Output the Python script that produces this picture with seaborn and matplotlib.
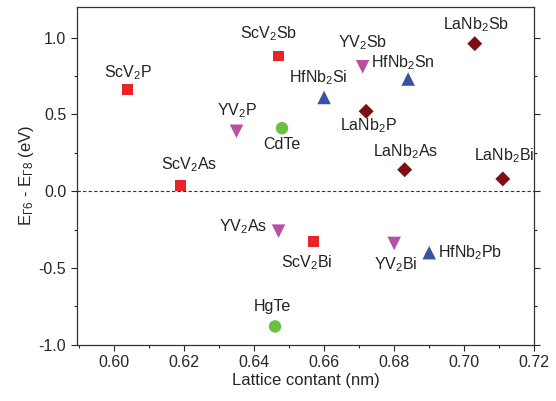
import numpy as np
import matplotlib
matplotlib.use("Agg")
import matplotlib.pyplot as plt
import seaborn as sns
import pandas as pd
from matplotlib.ticker import MultipleLocator

# Data
names = ["ScV$_2$P", "ScV$_2$Sb", "ScV$_2$As", "ScV$_2$Bi",
         "YV$_2$P", "YV$_2$Sb", "YV$_2$As", "YV$_2$Bi",
         "HfNb$_2$Si", "HfNb$_2$Sn", "HfNb$_2$Pb",
         "LaNb$_2$Sb", "LaNb$_2$P", "LaNb$_2$As", "LaNb$_2$Bi",
         "CdTe", "HgTe"]
lattice = [0.604, 0.647, 0.619, 0.657,
           0.635, 0.671, 0.647, 0.680,
           0.660, 0.684, 0.690,
           0.703, 0.672, 0.683, 0.711,
           0.648, 0.646]
gap = [0.66, 0.88, 0.04, -0.33,
       0.39, 0.81, -0.26, -0.34,
       0.61, 0.73, -0.40,
       0.96, 0.52, 0.14, 0.08,
       0.41, -0.88]
family = ["ScV2X"] * 4 + ["YV2X"] * 4 + ["HfNb2X"] * 3 + ["LaNb2X"] * 4 + ["II-VI", "II-VI"]

# label offsets (points) and alignment
offsets = [(0, 12, "center"), (-7, 16, "center"), (6, 15, "center"), (-5, -15, "center"),
           (0, 15, "center"), (0, 17, "center"), (-8, 3, "right"), (1, -15, "center"),
           (-4, 14, "center"), (-4, 12, "center"), (6, 0, "left"),
           (1, 14, "center"), (2, -10, "center"), (1, 13, "center"), (1, 17, "center"),
           (0, -12, "center"), (-2, 14, "center")]

df = pd.DataFrame({"name": names, "a": lattice, "E": gap, "family": family})

palette = {"ScV2X": "#e8242a", "YV2X": "#b74fa3", "HfNb2X": "#3853a3",
           "LaNb2X": "#7c1015", "II-VI": "#6abf45"}
markers = {"ScV2X": "s", "YV2X": "v", "HfNb2X": "^", "LaNb2X": "D", "II-VI": "o"}
sizes = {"ScV2X": 62, "YV2X": 95, "HfNb2X": 95, "LaNb2X": 58, "II-VI": 80}

sns.set_style("ticks")
plt.rcParams["font.family"] = ["Liberation Sans", "DejaVu Sans"]
plt.rcParams["mathtext.default"] = "regular"

fig, ax = plt.subplots(figsize=(5.56, 4.01), dpi=100)
for fam, sub in df.groupby("family", sort=False):
    sns.scatterplot(data=sub, x="a", y="E", color=palette[fam], marker=markers[fam],
                    s=sizes[fam], edgecolor="none", ax=ax, legend=False)

for n, x, y, (dx, dy, ha) in zip(names, lattice, gap, offsets):
    ax.annotate(n, (x, y), textcoords="offset points", xytext=(dx, dy),
                ha=ha, va="center", fontsize=11.5, color="#222222")

ax.axhline(0, color="#333333", linestyle="--", linewidth=0.8, dashes=(3, 2))
ax.set_xlim(0.5894, 0.72)
ax.set_ylim(-1.0, 1.2)
ax.xaxis.set_minor_locator(MultipleLocator(0.01))
ax.yaxis.set_major_locator(MultipleLocator(0.5))
ax.yaxis.set_minor_locator(MultipleLocator(0.25))
ax.set_xticks(np.arange(0.60, 0.7201, 0.02))
ax.xaxis.set_major_formatter(matplotlib.ticker.FormatStrFormatter("%.2f"))
ax.yaxis.set_major_formatter(matplotlib.ticker.FormatStrFormatter("%.1f"))
ax.tick_params(which="major", length=4, width=0.8, labelsize=11.5, direction="out")
ax.tick_params(which="minor", length=2, width=0.8, direction="out")
ax.tick_params(which="both", right=True, top=False)
for sp in ax.spines.values():
    sp.set_visible(True)
    sp.set_linewidth(0.9)
    sp.set_color("#333333")

ax.set_xlabel("Lattice contant (nm)", fontsize=12, labelpad=2)
ax.set_ylabel("E$_{\\Gamma6}$ - E$_{\\Gamma8}$ (eV)", fontsize=12, labelpad=2)

fig.subplots_adjust(left=0.138, right=0.961, top=0.983, bottom=0.14)
fig.savefig("out.png", dpi=100)
